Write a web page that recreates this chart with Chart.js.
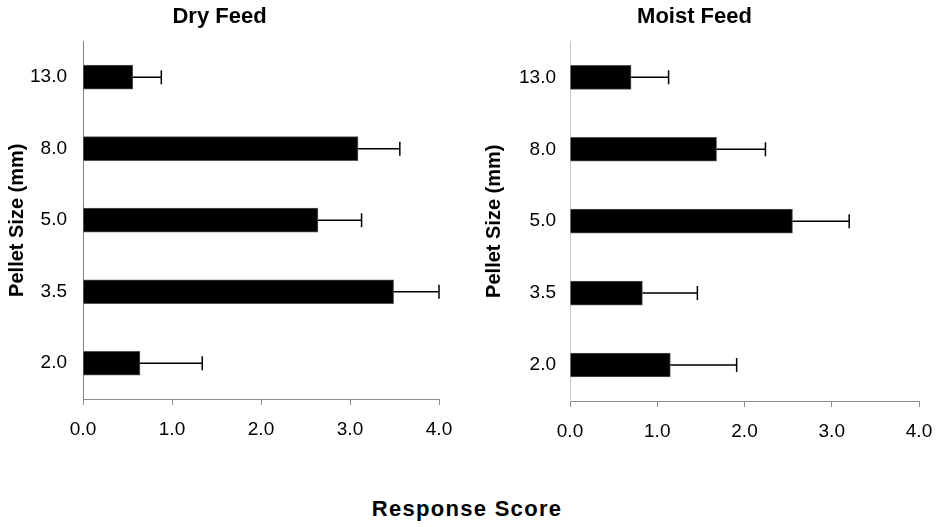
<!DOCTYPE html>
<html>
<head>
<meta charset="utf-8">
<script src="https://cdn.jsdelivr.net/npm/chart.js@4.4.1/dist/chart.umd.min.js"></script>
<style>
  body { margin: 0; background: #fff; }
  #wrap { position: relative; width: 942px; height: 527px; font-family: "Liberation Sans", Arial, sans-serif; }
  #dryBox { position: absolute; left: 0; top: 0; width: 452px; height: 450px; }
  #moistBox { position: absolute; left: 470px; top: 0; width: 472px; height: 450px; }
  #xTitle { position: absolute; left: 0; width: 934px; top: 496px; text-align: center; font-weight: bold; font-size: 22px; color: #000; letter-spacing: 1.3px; }
</style>
</head>
<body>
<div id="wrap">
  <div id="dryBox"><canvas id="dryChart"></canvas></div>
  <div id="moistBox"><canvas id="moistChart"></canvas></div>
  <div id="xTitle">Response Score</div>
</div>
<script>
// pellet sizes, top to bottom
var sizes = ['13.0', '8.0', '5.0', '3.5', '2.0'];
var xTicks = [0, 1, 2, 3, 4];

// dry feed scores + error
var dryScores = [0.56, 3.09, 2.64, 3.49, 0.64];
var dryErrors = [0.32, 0.47, 0.49, 0.51, 0.70];

// moist feed scores + error
var moistScores = [0.70, 1.68, 2.55, 0.83, 1.15];
var moistErrors = [0.43, 0.56, 0.65, 0.63, 0.76];

var fontFamily = '"Liberation Sans", Arial, sans-serif';

// draws the right-hand error whisker for each bar
var errorBars = {
  id: 'errorBars',
  afterDatasetsDraw: function (chart) {
    var ctx = chart.ctx;
    var xScale = chart.scales.x;
    chart.data.datasets.forEach(function (ds, i) {
      var meta = chart.getDatasetMeta(i);
      meta.data.forEach(function (bar, j) {
        var end = xScale.getPixelForValue(ds.data[j] + ds.errors[j]);
        ctx.save();
        ctx.strokeStyle = '#000';
        ctx.lineWidth = 1.5;
        ctx.beginPath();
        ctx.moveTo(bar.x, bar.y);
        ctx.lineTo(end, bar.y);
        ctx.moveTo(end, bar.y - 7);
        ctx.lineTo(end, bar.y + 7);
        ctx.stroke();
        ctx.restore();
      });
    });
  }
};

function makeChart(id, title, scores, errors, opts) {
  return new Chart(document.getElementById(id), {
    type: 'bar',
    data: {
      labels: sizes,
      datasets: [{
        data: scores,
        errors: errors,
        backgroundColor: '#000',
        borderColor: '#555',
        borderWidth: 1,
        barThickness: 24
      }]
    },
    options: {
      indexAxis: 'y',
      responsive: true,
      maintainAspectRatio: false,
      animation: false,
      layout: { padding: { left: 0, right: opts.padRight, top: 0, bottom: 0 } },
      plugins: {
        legend: { display: false },
        tooltip: { enabled: false },
        title: {
          display: true,
          text: title,
          color: '#000',
          font: { family: fontFamily, size: 22, weight: 'bold' },
          padding: { top: 4, bottom: opts.titleGap }
        }
      },
      scales: {
        x: {
          min: 0,
          max: 4,
          afterBuildTicks: function (scale) {
            scale.ticks = xTicks.map(function (v) { return { value: v }; });
          },
          afterFit: function (scale) {
            scale.height = opts.xHeight;
            // keep plot width fixed, label overflow handled by layout padding
            scale.paddingLeft = 0;
            scale.paddingRight = 0;
          },
          border: { display: true, color: '#8c8c8c', width: 1 },
          grid: { drawOnChartArea: false, drawTicks: true, tickLength: 6, color: '#8c8c8c' },
          ticks: {
            color: '#000',
            padding: 13,
            maxRotation: 0,
            font: { family: fontFamily, size: 19 },
            callback: function (v) { return Number(v).toFixed(1); }
          }
        },
        y: {
          afterFit: function (scale) { scale.width = opts.yWidth; },
          border: { display: true, color: opts.yColor, width: 1 },
          grid: { display: false, drawTicks: false },
          ticks: {
            color: '#000',
            padding: opts.tickPad,
            font: { family: fontFamily, size: 19 }
          },
          title: {
            display: true,
            text: 'Pellet Size (mm)',
            color: '#000',
            font: { family: fontFamily, size: 20, weight: 'bold' },
            padding: { top: opts.titlePad, bottom: 0 }
          }
        }
      }
    },
    plugins: [errorBars]
  });
}

makeChart('dryChart', 'Dry Feed', dryScores, dryErrors,
  { yWidth: 83, padRight: 13, xHeight: 51, yColor: '#808080', tickPad: 16, titlePad: 5, titleGap: 11 });
makeChart('moistChart', 'Moist Feed', moistScores, moistErrors,
  { yWidth: 100, padRight: 23, xHeight: 49, yColor: '#c8c8c8', tickPad: 14, titlePad: 12, titleGap: 11 });
</script>
</body>
</html>
